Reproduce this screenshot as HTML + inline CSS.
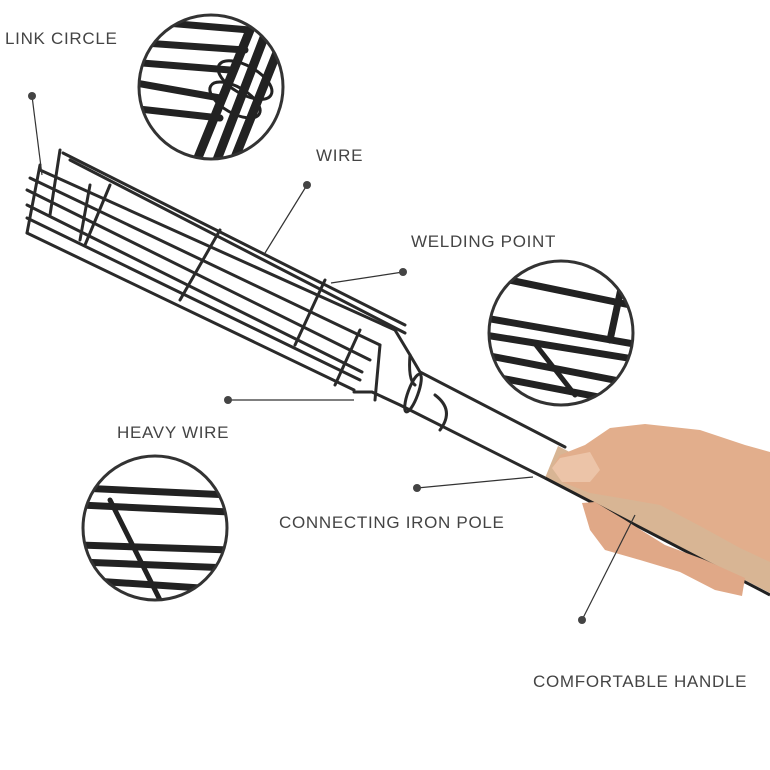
<!DOCTYPE html>
<html><head><meta charset="utf-8"><style>
html,body{margin:0;padding:0;background:#fff;}
svg{display:block}
text{font-family:"Liberation Sans",sans-serif;font-size:17px;fill:#444;letter-spacing:0.7px}
</style></head><body>
<svg width="770" height="770" viewBox="0 0 770 770">
<defs>
<clipPath id="c1"><circle cx="211" cy="87" r="72"/></clipPath>
<clipPath id="c2"><circle cx="561" cy="333" r="72"/></clipPath>
<clipPath id="c3"><circle cx="155" cy="528" r="72"/></clipPath>
</defs>
<rect width="770" height="770" fill="#fff"/>
<!-- labels -->
<text x="5" y="44">LINK CIRCLE</text>
<text x="316" y="161">WIRE</text>
<text x="411" y="247">WELDING POINT</text>
<text x="117" y="438">HEAVY WIRE</text>
<text x="279" y="528">CONNECTING IRON POLE</text>
<text x="533" y="687">COMFORTABLE HANDLE</text>

<!-- top circle -->
<g clip-path="url(#c1)" stroke="#222" stroke-linecap="round">
<rect x="130" y="10" width="170" height="160" fill="#fff" stroke="none"/>
<g stroke-width="7">
<line x1="130" y1="20" x2="250" y2="30"/>
<line x1="130" y1="42" x2="245" y2="50"/>
<line x1="130" y1="62" x2="230" y2="70"/>
<line x1="130" y1="82" x2="220" y2="98"/>
<line x1="130" y1="108" x2="220" y2="118"/>
</g>
<g stroke-width="9">
<line x1="195" y1="165" x2="250" y2="30"/>
<line x1="215" y1="165" x2="265" y2="35"/>
<line x1="232" y1="165" x2="280" y2="45"/>
</g>
<g fill="none" stroke-width="3">
<ellipse cx="245" cy="80" rx="30" ry="14" transform="rotate(30 245 80)"/>
<ellipse cx="235" cy="100" rx="28" ry="13" transform="rotate(30 235 100)"/>
</g>
</g>
<circle cx="211" cy="87" r="72" fill="none" stroke="#333" stroke-width="3"/>

<!-- right circle -->
<g clip-path="url(#c2)" stroke="#222" stroke-linecap="round">
<g stroke-width="7">
<line x1="485" y1="275" x2="630" y2="305"/>
<line x1="485" y1="318" x2="640" y2="345"/>
<line x1="485" y1="335" x2="640" y2="360"/>
<line x1="485" y1="355" x2="640" y2="385"/>
<line x1="485" y1="375" x2="640" y2="405"/>
</g>
<line x1="610" y1="340" x2="625" y2="270" stroke-width="7"/>
<line x1="536" y1="345" x2="575" y2="395" stroke-width="5"/>
</g>
<circle cx="561" cy="333" r="72" fill="none" stroke="#333" stroke-width="3"/>

<!-- left circle -->
<g clip-path="url(#c3)" stroke="#222" stroke-linecap="round">
<g stroke-width="7">
<line x1="80" y1="488" x2="230" y2="495"/>
<line x1="80" y1="505" x2="230" y2="512"/>
<line x1="80" y1="545" x2="230" y2="550"/>
<line x1="80" y1="562" x2="230" y2="568"/>
<line x1="80" y1="580" x2="230" y2="590"/>
</g>
<line x1="110" y1="500" x2="160" y2="600" stroke-width="5"/>
</g>
<circle cx="155" cy="528" r="72" fill="none" stroke="#333" stroke-width="3"/>

<!-- cage -->
<g stroke="#2a2a2a" stroke-width="3" fill="none" stroke-linecap="round">
<line x1="63" y1="153" x2="405" y2="325"/>
<line x1="70" y1="160" x2="405" y2="333"/>
<line x1="40" y1="170" x2="395" y2="330"/>
<line x1="30" y1="178" x2="380" y2="345"/>
<line x1="27" y1="190" x2="370" y2="360"/>
<line x1="27" y1="205" x2="362" y2="372"/>
<line x1="27" y1="218" x2="360" y2="380"/>
<line x1="27" y1="233" x2="354" y2="390"/>
<path d="M395 330 L410 355 L420 372 L565 447"/>
<path d="M354 392 L372 392 L400 405 L545 478"/>
<path d="M410 355 Q408 380 415 385"/>
<path d="M380 345 L375 400"/>
<ellipse cx="413" cy="393" rx="5" ry="20" transform="rotate(20 413 393)"/>
<path d="M435 395 Q455 410 440 430"/>
<path d="M60 150 L50 215 M90 185 L80 240 M110 185 L85 245"/>
<path d="M220 230 L180 300 M325 280 L295 345 M360 330 L335 385"/>
<path d="M40 165 L27 233"/>
</g>

<!-- leader lines & dots -->
<g stroke="#333" stroke-width="1.2" fill="#444">
<line x1="32" y1="96" x2="42" y2="175"/><circle cx="32" cy="96" r="4" stroke="none"/>
<line x1="307" y1="185" x2="265" y2="253"/><circle cx="307" cy="185" r="4" stroke="none"/>
<line x1="403" y1="272" x2="331" y2="283"/><circle cx="403" cy="272" r="4" stroke="none"/>
<line x1="228" y1="400" x2="354" y2="400"/><circle cx="228" cy="400" r="4" stroke="none"/>
<line x1="417" y1="488" x2="533" y2="477"/><circle cx="417" cy="488" r="4" stroke="none"/>
</g>

<!-- handle + hand -->
<polygon points="558,446 770,555 770,593 545,478" fill="#d8b594"/>
<line x1="545" y1="478" x2="770" y2="595" stroke="#222" stroke-width="3"/>
<path d="M552,468 L560,455 L585,445 L610,428 L645,424 L700,430 L745,445 L770,452 L770,562 L740,548 L700,526 L660,505 L620,498 L590,493 L562,482 Z" fill="#e2ae8c"/>
<path d="M552,468 L560,458 L590,452 L600,470 L590,482 L562,482 Z" fill="#ecc4a8"/>
<path d="M582,503 L590,530 L605,550 L640,560 L680,572 L715,590 L742,596 L745,578 L705,560 L665,545 L625,520 L595,502 Z" fill="#e0a887"/>
<g stroke="#333" stroke-width="1.2" fill="#444">
<line x1="582" y1="620" x2="635" y2="515"/><circle cx="582" cy="620" r="4" stroke="none"/>
</g>
</svg>
</body></html>
